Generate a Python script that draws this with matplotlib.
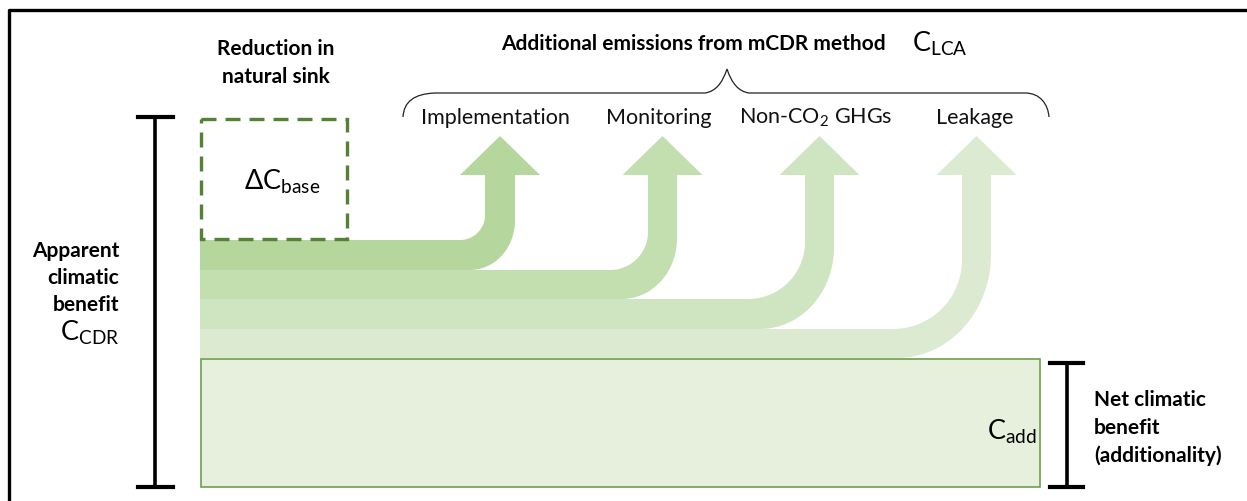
import numpy as np
import matplotlib.pyplot as plt
from matplotlib.patches import Polygon, Rectangle
from matplotlib.path import Path
from matplotlib.patches import PathPatch

plt.rcParams['font.family'] = ['Lato', 'DejaVu Sans']
plt.rcParams['mathtext.fontset'] = 'custom'
plt.rcParams['mathtext.rm'] = 'Lato'
plt.rcParams['mathtext.it'] = 'Lato:italic'
plt.rcParams['mathtext.bf'] = 'Lato:bold'

# data
emission_labels = ['Implementation', 'Monitoring', 'Non-CO$_2$ GHGs', 'Leakage']
emission_widths = [30, 29, 30, 29]          # flow thickness of each emission
add_height = 128                            # net benefit block
base_height = 120                           # reduction in natural sink

# geometry (pixels, y down)
x0, x_box_right = 200, 1040
y_add_top = 360
shaft_left = [485, 648, 805, 962]
shaft_right = [515, 677, 834, 991]
inner_end = [460, 610, 748, 893]
outer_end = [470, 622, 760, 897]
head_tip, head_base, head_hw = 137, 176, 40
flow_colors = ['#b5d79e', '#c3dfb0', '#cfe5c1', '#dbead0']

BOLD = 15
BIG = 19.5
LS = 1.45

fig = plt.figure(figsize=(12.47, 5.02), dpi=100)
ax = fig.add_axes([0, 0, 1, 1])
ax.set_xlim(0, 1247)
ax.set_ylim(502, 0)
ax.axis('off')

# frame
ax.plot([9, 9, 1247], [502, 11, 11], color='black', lw=2.4, solid_capstyle='projecting')

# band edges computed from widths, stacked up from the net block
edges = [y_add_top - 1]
for w in reversed(emission_widths):
    edges.append(edges[-1] - w)
edges = edges[::-1]   # top to bottom


def arc(cx, cy, rx, ry, t0, t1, n=30):
    t = np.radians(np.linspace(t0, t1, n))
    return list(zip(cx + rx * np.cos(t), cy + ry * np.sin(t)))


label_x = [495, 659, 816, 975]
for i in range(4):
    y_top, y_bot = edges[i], edges[i + 1]
    xl, xr = shaft_left[i], shaft_right[i]
    xc = (xl + xr) / 2
    ri = xl - inner_end[i]
    rxo = xr - outer_end[i]
    ryo = rxo * 1.1
    pts = [(x0, y_bot), (outer_end[i], y_bot)]
    pts += arc(outer_end[i], y_bot - ryo, rxo, ryo, 90, 0)
    pts += [(xr, head_base), (xc + head_hw, head_base), (xc, head_tip),
            (xc - head_hw, head_base), (xl, head_base)]
    pts += arc(inner_end[i], y_top - ri, ri, ri, 0, 90)
    pts += [(x0, y_top)]
    ax.add_patch(Polygon(pts, closed=True, facecolor=flow_colors[i],
                         edgecolor='none', zorder=5 - i))
    ax.text(label_x[i], 118, emission_labels[i], ha='center',
            va='center', fontsize=15.5, color='#111111')

# net climatic benefit block
ax.add_patch(Rectangle((201, y_add_top), x_box_right - 201, add_height,
                       facecolor='#e6f0dc', edgecolor='#6f9f4f', lw=1.2, zorder=6))
ax.text(1012, 432, 'C$_{\\mathrm{add}}$', ha='center', va='center', fontsize=BIG, zorder=7)

# reduction in natural sink (dashed)
ax.add_patch(Rectangle((201, 240 - base_height), 146, base_height, facecolor='none',
                       edgecolor='#548235', lw=2.4, ls=(0, (4.5, 2.7)), zorder=7))
ax.text(282, 182, '$\\Delta$C$_{\\mathrm{base}}$', ha='center', va='center', fontsize=BIG)
ax.text(276, 63, 'Reduction in\nnatural sink', ha='center', va='center',
        fontsize=BOLD, fontweight='bold', linespacing=LS)

# brackets
ax.plot([155, 155], [118, 488], color='black', lw=2.6)
ax.plot([138, 173], [118, 118], color='black', lw=3)
ax.plot([138, 173], [488, 488], color='black', lw=3)
ax.plot([1067, 1067], [364, 488], color='black', lw=2.6)
ax.plot([1050, 1083], [364, 364], color='black', lw=3)
ax.plot([1050, 1083], [488, 488], color='black', lw=3)

ax.text(119, 278, 'Apparent\nclimatic\nbenefit', ha='right', va='center',
        fontsize=BOLD, fontweight='bold', linespacing=LS)
ax.text(119, 333, 'C$_{\\mathrm{CDR}}$', ha='right', va='center', fontsize=BIG)
ax.text(1094, 428, 'Net climatic\nbenefit\n(additionality)', ha='left', va='center',
        fontsize=BOLD, fontweight='bold', linespacing=LS)

# brace over emissions
brace = [(403, 118), (404, 95), (435, 94), (705, 94), (720, 92), (727, 70),
         (734, 92), (749, 94), (1025, 94), (1040, 94), (1048, 105), (1049, 118)]
codes = [Path.MOVETO, Path.CURVE3, Path.CURVE3, Path.LINETO,
         Path.CURVE3, Path.CURVE3, Path.CURVE3, Path.CURVE3, Path.LINETO,
         Path.CURVE4, Path.CURVE4, Path.CURVE4]
ax.add_patch(PathPatch(Path(brace, codes), facecolor='none', edgecolor='#222222', lw=0.9))

ax.text(693, 44, 'Additional emissions from mCDR method', ha='center', va='center',
        fontsize=BOLD, fontweight='bold')
ax.text(912, 44, 'C$_{\\mathrm{LCA}}$', ha='left', va='center', fontsize=BIG)

fig.savefig('out.png', dpi=100)
